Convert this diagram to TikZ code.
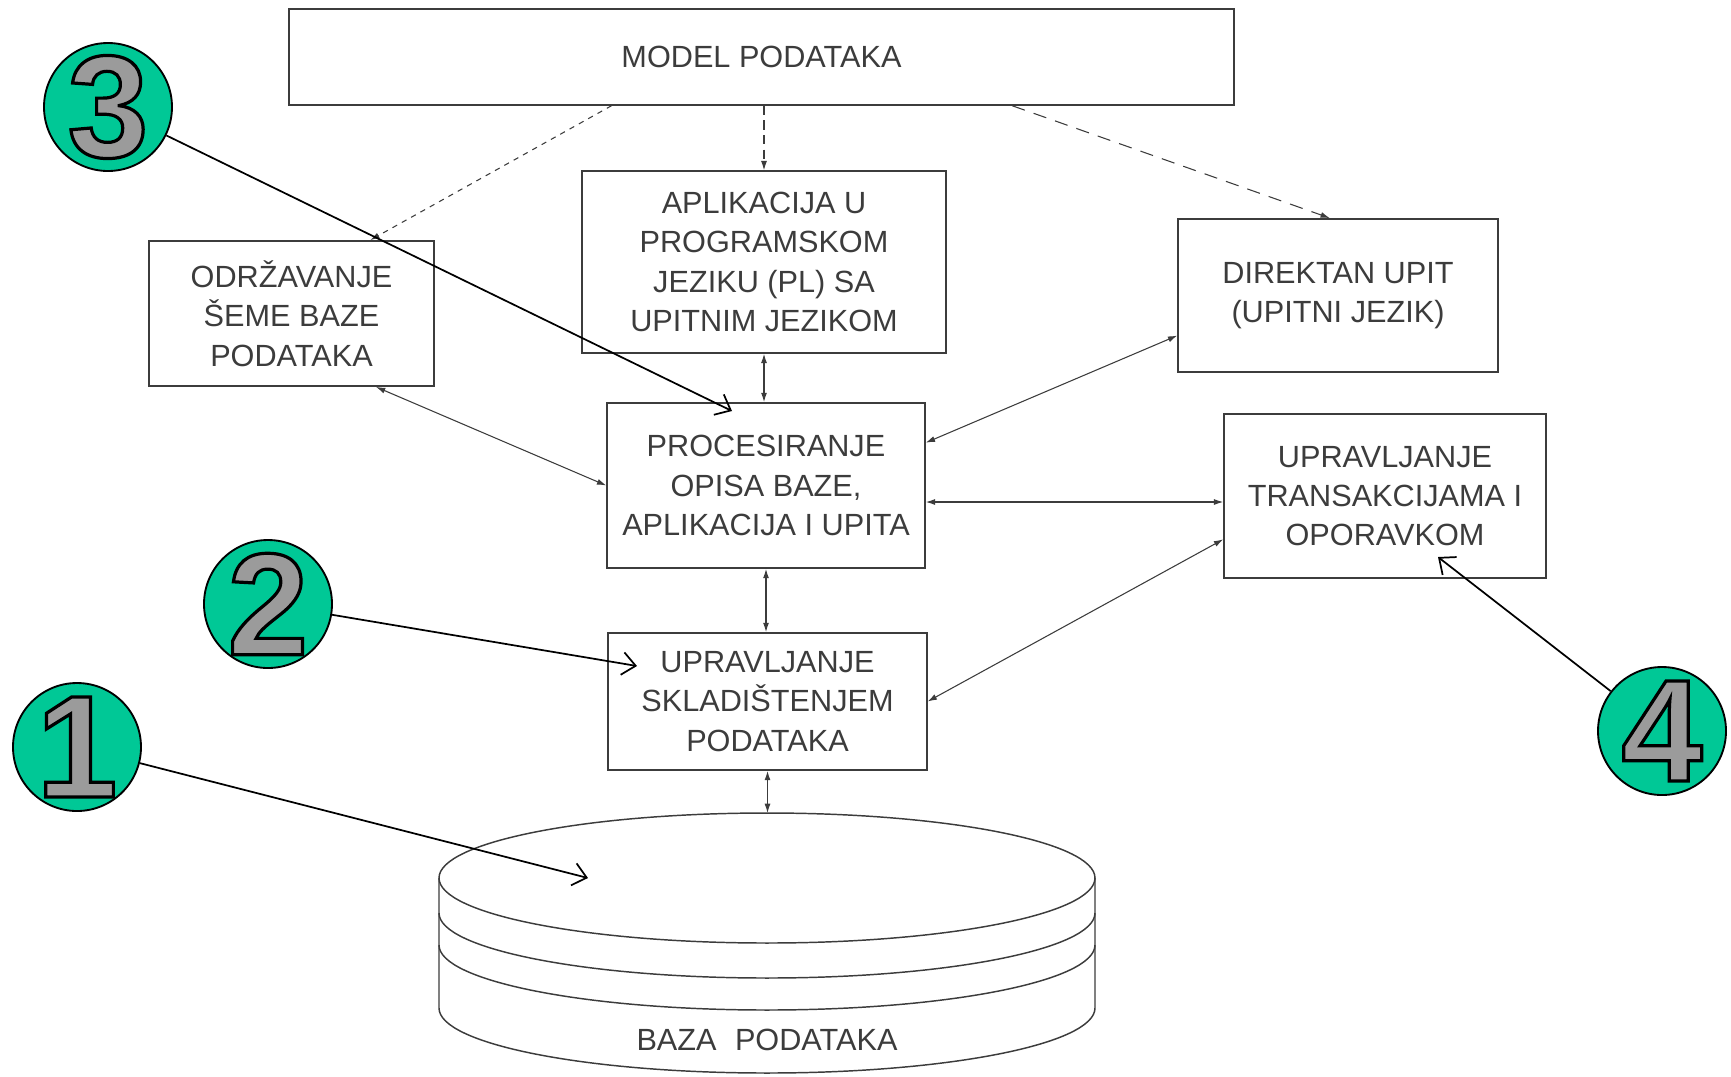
\documentclass[tikz,border=0pt]{standalone}
\usepackage{fontspec}
\setmainfont{Liberation Sans}
\usepackage{tikz}
\usetikzlibrary{arrows.meta,calc}

\definecolor{scan}{RGB}{60,60,60}
\definecolor{badgegreen}{RGB}{0,200,150}
\definecolor{numgray}{RGB}{155,155,155}

% outlined digit: gray fill, black stroke
\newcommand{\hollowdigit}[1]{\special{pdf:code 2 Tr 2.4 w 0 G}#1\special{pdf:code 0 Tr}}

\tikzset{
  blok/.style={draw=scan, line width=1.1pt, text=scan, align=center, inner sep=0pt, font=\fontsize{23}{29.5}\selectfont},
  link/.style={draw=scan, line width=0.8pt, {Latex[length=7pt,width=4.5pt]}-{Latex[length=7pt,width=4.5pt]}},
  dashlink/.style={draw=scan, line width=0.8pt, -{Latex[length=7pt,width=4.5pt]}},
  pointer/.style={draw=black, line width=1.3pt, -{Straight Barb[length=10pt,width=17pt]}},
  badge/.style={circle, draw=black, line width=1.4pt, fill=badgegreen, minimum size=96pt, inner sep=0pt,
    label={[text=numgray, inner sep=0pt, font=\fontsize{109}{109}\selectfont\bfseries]center:\hollowdigit{#1}}},
}

\begin{document}
\begin{tikzpicture}[x=0.75pt,y=0.75pt,yscale=-1,xscale=1]
        \useasboundingbox (0,0) rectangle (1731,1076);

        % Boxes
        \node[blok, minimum width=709pt, minimum height=72pt] (model) at (761.5,57) {MODEL PODATAKA};
        \node[blok, minimum width=273pt, minimum height=136.5pt] (aplik) at (764,262) {APLIKACIJA U\\PROGRAMSKOM\\JEZIKU (PL) SA\\UPITNIM JEZIKOM};
        \node[blok, minimum width=214pt, minimum height=109pt] (odrz) at (291.5,313.5) {ODRŽAVANJE\\ŠEME BAZE\\PODATAKA};
        \node[blok, minimum width=240pt, minimum height=115pt] (direkt) at (1338,295.5) {DIREKTAN UPIT\\(UPITNI JEZIK)};
        \node[blok, minimum width=238.5pt, minimum height=124pt] (proc) at (766,485.5) {PROCESIRANJE\\OPISA BAZE,\\APLIKACIJA I UPITA};
        \node[blok, minimum width=241.5pt, minimum height=123pt] (trans) at (1385,496) {UPRAVLJANJE\\TRANSAKCIJAMA I\\OPORAVKOM};
        \node[blok, minimum width=239pt, minimum height=103pt] (sklad) at (767.5,701.5) {UPRAVLJANJE\\SKLADIŠTENJEM\\PODATAKA};

        % Database cylinder
        \draw[draw=scan, line width=1.1pt] (767,878) ellipse [x radius=328, y radius=65];
        \draw[draw=scan, line width=1.1pt] (439,913) arc [start angle=180, end angle=0, x radius=328, y radius=65];
        \draw[draw=scan, line width=1.1pt] (439,945) arc [start angle=180, end angle=0, x radius=328, y radius=65];
        \draw[draw=scan, line width=1.1pt] (439,878) -- (439,1008) arc [start angle=180, end angle=0, x radius=328, y radius=65] -- (1095,878);
        \coordinate (baza) at (767,813);
        % Text Node
        \node[text=scan, font=\fontsize{23}{29}\selectfont] (bazalbl) at (767,1040) {BAZA\hspace{0.6em}PODATAKA};

        % Dashed links from the model
        \draw[dashlink, dash pattern=on 4pt off 4pt] (model.198.5) -- (odrz.43.8);
        \draw[dashlink, dash pattern=on 7pt off 4pt] (aplik.north |- model.south) -- (aplik.north);
        \draw[dashlink, dash pattern=on 10pt off 7pt] (model.-11.3) -- (direkt.96);

        % Two-way links
        \coordinate (procr) at ($(proc.east)+(0,16.5)$);
        \draw[link] (aplik.south) -- (aplik.south |- proc.north);
        \draw[link] (odrz.-41.6) -- (proc.west);
        \draw[link] (direkt.194.9) -- (proc.15.3);
        \draw[link] (procr) -- (procr -| trans.west);
        \draw[link] (sklad.east) -- (trans.195.7);
        \draw[link] (proc.south) -- (proc.south |- sklad.north);
        \draw[link] (sklad.south) -- (sklad.south |- baza);

        % Numbered badges
        \node[badge=3] (c3) at (108,107) {};
        \node[badge=2] (c2) at (268,604) {};
        \node[badge=1] (c1) at (77,747) {};
        \node[badge=4] (c4) at (1662,731) {};

        \coordinate (tip3) at (732,411);
        \coordinate (tip2) at (637,666);
        \coordinate (tip1) at (588,878);
        \coordinate (tip4) at (1438,557);
        \draw[pointer] (c3) -- (tip3);
        \draw[pointer] (c2) -- (tip2);
        \draw[pointer] (c1) -- (tip1);
        \draw[pointer] (c4) -- (tip4);

\end{tikzpicture}
\end{document}
